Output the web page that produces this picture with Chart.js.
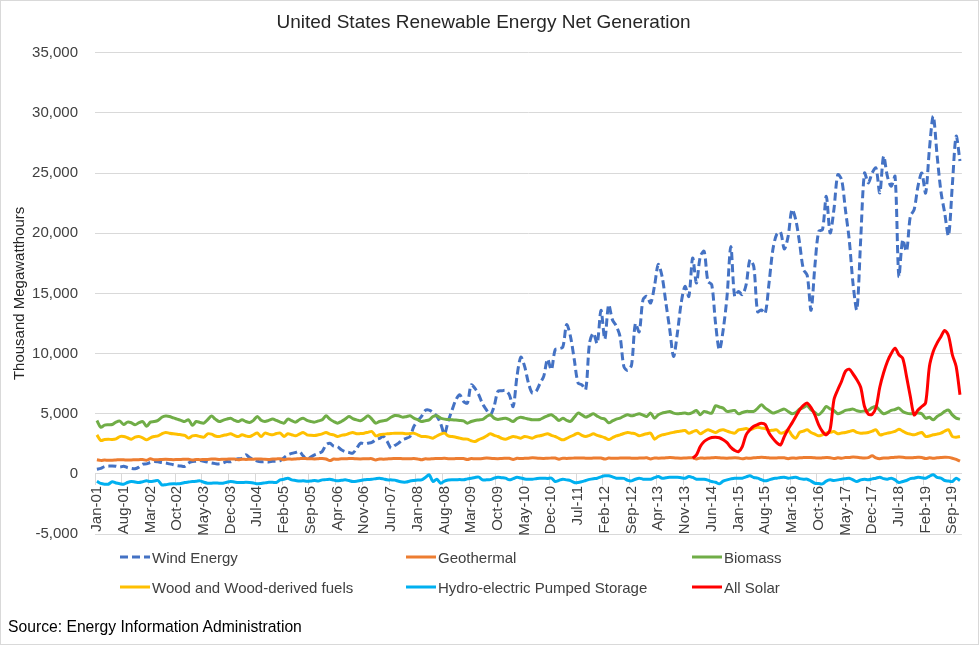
<!DOCTYPE html>
<html><head><meta charset="utf-8">
<script src="https://cdn.jsdelivr.net/npm/chart.js@4.4.1/dist/chart.umd.min.js"></script>
<style>
html,body{margin:0;padding:0;background:#fff;}
#wrap{position:relative;width:979px;height:645px;overflow:hidden;font-family:'Liberation Sans',Arial,sans-serif;}
#c{position:absolute;left:0;top:0;}
#frame{position:absolute;left:0;top:0;width:979px;height:645px;box-sizing:border-box;border:1px solid #d9d9d9;pointer-events:none;}
.leg{position:absolute;display:flex;align-items:center;font-size:15px;color:#404040;white-space:nowrap;transform:translateY(-50%);}
.leg .sw{width:30px;height:3px;margin-right:2px;}
#src{position:absolute;left:8px;top:618px;font-size:15.7px;color:#000;}
</style></head><body>
<div id="wrap"><canvas id="c" width="979" height="645"></canvas><div id="legend"></div><div id="src">Source: Energy Information Administration</div><div id="frame"></div></div>
<script>
const monthNames = ['Jan','Feb','Mar','Apr','May','Jun','Jul','Aug','Sep','Oct','Nov','Dec'];

// Thousand MWh, monthly Jan-2001 .. Nov-2019
const wind = [
390,450,610,640,660,640,560,640,520,450,420,560,
800,830,950,1030,1000,940,900,830,760,680,650,620,
900,1020,1050,1110,1050,980,900,850,830,900,1020,1000,
1160,1250,1300,1580,1350,1200,1060,1000,1000,990,1050,1060,
1100,1350,1580,1700,1780,1850,1500,1170,1400,1580,1700,1860,
2410,2550,2300,2270,2000,1850,1780,1720,2100,2550,2500,2550,
2610,2830,2950,3110,2700,2140,2350,2550,2830,2950,3110,3940,
4400,4770,5270,5300,5100,4800,4200,3300,4400,5300,6150,6570,
6020,5880,7400,7100,6570,5800,5320,4900,5600,6850,6900,6930,
6570,5600,8100,9700,8930,7550,6720,6850,7500,8100,9540,8650,
10320,10400,10540,12400,11430,9500,7550,7400,7000,10880,11700,10850,
13600,11200,14050,12800,12300,11400,8900,8600,9040,12500,11800,14470,
14750,14200,15600,17400,16400,14200,12000,9760,11700,14200,15580,14750,
17940,15860,18080,18500,16000,15720,12500,10300,11980,14750,18900,14750,
15160,14890,15720,17800,17240,13480,13620,13340,15860,18630,19900,20100,
18700,19740,21960,21130,19190,17000,16500,13600,17240,20160,20300,23070,
20020,22000,24870,24460,21960,19460,15800,13640,19460,25010,24180,25010,
25430,23350,26400,24730,23900,24730,16410,19460,18500,21400,21960,23900,
25010,23350,27000,29730,26500,23500,21680,19800,24000,28060,26000
];

const geothermal = [
1180,1120,1150,1130,1140,1160,1180,1170,1150,1160,1170,1180,
1190,1130,1250,1170,1180,1200,1210,1200,1180,1190,1200,1210,
1220,1150,1200,1180,1190,1200,1230,1230,1200,1210,1220,1230,
1240,1170,1220,1200,1210,1220,1240,1240,1210,1200,1230,1240,
1250,1170,1230,1220,1240,1260,1280,1260,1250,1240,1260,1280,
1240,1100,1230,1210,1250,1260,1270,1280,1250,1240,1250,1260,
1260,1150,1240,1220,1240,1260,1270,1280,1260,1250,1260,1270,
1240,1170,1250,1230,1260,1270,1280,1290,1260,1250,1270,1280,
1280,1190,1270,1250,1260,1280,1310,1300,1270,1260,1280,1290,
1300,1200,1290,1270,1290,1300,1330,1320,1290,1280,1300,1310,
1320,1220,1300,1280,1300,1310,1320,1320,1300,1290,1310,1320,
1320,1230,1310,1290,1300,1310,1320,1320,1300,1290,1310,1320,
1330,1240,1320,1300,1310,1330,1350,1340,1310,1300,1320,1340,
1340,1240,1320,1300,1310,1330,1360,1340,1310,1300,1320,1330,
1320,1250,1310,1300,1330,1350,1380,1360,1330,1310,1320,1340,
1330,1260,1320,1300,1340,1350,1360,1350,1330,1310,1330,1350,
1340,1270,1330,1300,1350,1360,1400,1380,1340,1320,1350,1500,
1330,1260,1320,1310,1350,1370,1400,1380,1340,1330,1350,1370,
1360,1270,1330,1300,1330,1360,1380,1370,1300,1200,1050
];

const biomass = [
4435,3880,4050,4080,4100,4300,4380,4100,4300,4250,4080,4250,
4350,3950,4300,4350,4450,4700,4800,4770,4650,4550,4450,4350,
4490,4030,4350,4270,4220,4500,4800,4550,4350,4450,4550,4630,
4450,4350,4490,4350,4270,4450,4770,4450,4354,4450,4550,4440,
4300,4216,4550,4420,4300,4500,4631,4440,4350,4300,4400,4490,
4825,4550,4354,4216,4354,4550,4770,4600,4490,4410,4600,4825,
4550,4216,4354,4420,4490,4700,4850,4825,4715,4750,4825,4630,
4500,4354,4420,4490,4770,4825,4630,4550,4520,4490,4470,4440,
4400,4216,4350,4440,4480,4520,4750,4910,4630,4520,4580,4630,
4500,4354,4600,4715,4630,4560,4490,4500,4520,4680,4825,4910,
4700,4440,4630,4450,4354,4700,5050,4900,4715,4850,4990,4800,
4630,4550,4250,4400,4550,4631,4800,4910,4825,4900,4992,4880,
4770,5050,4631,4910,5050,5120,5190,5050,4992,5020,5050,4992,
5100,5270,4910,5190,5100,5050,5660,5560,5460,5190,5230,5270,
4992,5100,5190,5190,5190,5450,5740,5460,5250,5050,5150,5270,
5380,5190,5000,5100,5380,5500,5657,5325,5100,4910,5200,5600,
5400,5270,4992,5100,5270,5330,5380,5250,5190,5230,5270,5500,
5600,5270,4992,5100,5270,5350,5464,5190,5050,4992,5020,5050,
5000,4631,4700,4493,4770,4950,5190,5300,4900,4631,4548
];

const wood = [
3245,2780,2850,2880,2850,2900,3100,3100,3000,2880,3050,3100,
3000,2830,3000,3100,3150,3330,3440,3380,3330,3300,3250,3200,
2970,3150,3190,3100,3050,3330,3300,3150,3100,3190,3250,3330,
3200,3100,3250,3150,3100,3250,3400,3100,3383,3300,3245,3350,
3383,3106,3328,3250,3162,3300,3439,3245,3200,3189,3250,3328,
3439,3300,3245,3106,3200,3245,3350,3439,3328,3350,3383,3450,
3520,3162,3245,3300,3328,3350,3383,3383,3380,3328,3350,3383,
3250,3106,3106,3050,2967,3150,3300,3383,3162,3100,3050,2967,
2900,2884,2750,2690,2850,2967,3150,3328,3200,3106,2950,2884,
3000,3106,3050,2967,3106,3050,2967,3100,3162,3250,3328,3200,
3106,2950,2829,2950,3106,3250,3383,3200,3106,3200,3328,3200,
3106,3000,2850,3000,3150,3245,3350,3439,3380,3328,3162,3250,
3328,3383,2884,3100,3245,3300,3383,3450,3520,3560,3605,3383,
3500,3605,3328,3500,3661,3550,3439,3605,3661,3550,3450,3383,
3661,3700,3771,3661,3780,3882,3800,3771,3605,3630,3661,3383,
3450,3661,3200,2967,3439,3550,3661,3439,3300,3162,3250,3383,
3450,3522,3328,3400,3439,3520,3605,3450,3383,3400,3439,3550,
3661,3245,3300,3383,3450,3522,3716,3550,3383,3300,3245,3350,
3439,3106,3150,3245,3300,3383,3550,3661,3106,3050,3106
];

const hydro = [
-610,-800,-860,-860,-665,-760,-820,-860,-721,-638,-680,-721,
-650,-583,-638,-600,-555,-915,-900,-850,-832,-832,-800,-721,
-680,-640,-620,-583,-700,-777,-777,-760,-777,-777,-700,-638,
-680,-721,-721,-700,-721,-760,-832,-800,-750,-700,-700,-720,
-500,-444,-360,-500,-550,-600,-580,-620,-600,-560,-600,-499,
-480,-444,-520,-583,-540,-499,-560,-638,-620,-560,-499,-470,
-444,-400,-360,-420,-499,-500,-520,-620,-680,-680,-600,-555,
-520,-499,-300,-83,-638,-444,-777,-600,-520,-499,-500,-480,
-499,-420,-360,-300,-277,-499,-499,-480,-360,-277,-320,-360,
-499,-400,-277,-350,-420,-444,-444,-400,-360,-360,-380,-360,
-638,-540,-444,-499,-560,-721,-721,-650,-555,-460,-400,-360,
-250,-166,-166,-250,-360,-360,-380,-540,-583,-450,-360,-444,
-444,-444,-320,-222,-360,-330,-277,-277,-277,-320,-360,-222,
-300,-444,-444,-444,-520,-638,-700,-832,-600,-499,-420,-360,
-360,-360,-250,-166,-300,-360,-480,-583,-500,-400,-360,-300,
-277,-360,-320,-277,-400,-444,-444,-600,-777,-800,-832,-600,
-499,-555,-500,-444,-400,-360,-500,-638,-500,-444,-499,-420,
-360,-277,-400,-444,-360,-500,-721,-640,-555,-400,-360,-277,
-320,-360,-200,-83,-300,-360,-555,-600,-638,-360,-555
];

// All Solar, Jan-2014 .. Nov-2019
const solarStart = 'Jan-14';
const solarValues = [
1300,1580,2270,2690,2900,3020,3050,3000,2830,2600,2200,1950,
1850,2270,3250,3660,3950,4100,4200,4100,3400,2950,2600,2400,
3100,3700,4216,4770,5325,5700,5880,5500,4900,4077,3522,3250,
3700,6157,6990,7700,8515,8700,8300,7820,7200,5600,4950,4950,
5500,7200,8400,9340,10000,10450,9900,9600,8100,6430,4900,5300,
5600,5900,8930,10170,10870,11400,11920,11470,9900,8930,6570
];

const categories = [];
for (let y = 2001; categories.length < wind.length; y++) {
  for (let m = 0; m < 12 && categories.length < wind.length; m++) {
    categories.push(monthNames[m] + '-' + String(y % 100).padStart(2, '0'));
  }
}
const solarIdx = categories.indexOf(solarStart);
const solar = categories.map((c, i) => i < solarIdx ? null : solarValues[i - solarIdx]);

const family = "'Liberation Sans', Arial, sans-serif";
const seriesMeta = [
  {label: 'Wind Energy', data: wind, color: '#4472C4', dash: [8, 4]},
  {label: 'Geothermal', data: geothermal, color: '#ED7D31'},
  {label: 'Biomass', data: biomass, color: '#70AD47'},
  {label: 'Wood and Wood-derived fuels', data: wood, color: '#FFC000'},
  {label: 'Hydro-electric Pumped Storage', data: hydro, color: '#00B0F0'},
  {label: 'All Solar', data: solar, color: '#FF0000'}
];

const datasets = seriesMeta.map((s, k) => ({
  label: s.label, data: s.data, borderColor: s.color, backgroundColor: s.color,
  borderWidth: 3, borderDash: s.dash || [], pointRadius: 0, pointHoverRadius: 0,
  tension: 0.3, fill: false, order: seriesMeta.length - k
}));

new Chart(document.getElementById('c'), {
  type: 'line',
  data: {labels: categories, datasets},
  options: {
    responsive: false, animation: false, devicePixelRatio: 1,
    layout: {padding: {left: 0, right: 12, top: 0, bottom: 111}},
    plugins: {
      legend: {display: false}, tooltip: {enabled: false},
      title: {display: true, text: 'United States Renewable Energy Net Generation', color: '#262626',
        font: {family, size: 19, weight: 'normal'}, padding: {top: 11, bottom: 19}}
    },
    scales: {
      x: {
        type: 'category', offset: true, position: {y: 0},
        grid: {offset: true, drawOnChartArea: false, drawTicks: true, tickLength: 11,
          color: ctx => (ctx.index % 7 === 0 ? '#d9d9d9' : 'rgba(0,0,0,0)')},
        border: {display: true, color: '#d9d9d9', width: 1},
        ticks: {autoSkip: false, maxRotation: 90, minRotation: 90, padding: 1, color: '#404040',
          font: {family, size: 15},
          callback: function (v, i) { return i % 7 === 0 ? this.getLabelForValue(v) : ''; }}
      },
      y: {
        min: -5000, max: 35000,
        ticks: {stepSize: 5000, padding: 17, color: '#404040', font: {family, size: 15},
          callback: v => v.toLocaleString('en-US')},
        grid: {color: '#d9d9d9', drawTicks: false},
        border: {display: false},
        title: {display: true, text: 'Thousand Megawatthours', color: '#262626', font: {family, size: 15},
          padding: {top: 11, bottom: 0}},
        afterFit: s => { s.width = 95; }
      }
    }
  }
});

// legend (3 columns x 2 rows)
const legendPos = [[120, 557], [406, 557], [692, 557], [120, 587], [406, 587], [692, 587]];
const legendEl = document.getElementById('legend');
seriesMeta.forEach((s, k) => {
  const item = document.createElement('div');
  item.className = 'leg';
  item.style.left = legendPos[k][0] + 'px';
  item.style.top = legendPos[k][1] + 'px';
  const sw = document.createElement('span');
  sw.className = 'sw';
  sw.style.background = s.dash
    ? `repeating-linear-gradient(to right, ${s.color} 0 8px, transparent 8px 12px)`
    : s.color;
  const tx = document.createElement('span');
  tx.textContent = s.label;
  item.appendChild(sw); item.appendChild(tx);
  legendEl.appendChild(item);
});
</script>
</body></html>
